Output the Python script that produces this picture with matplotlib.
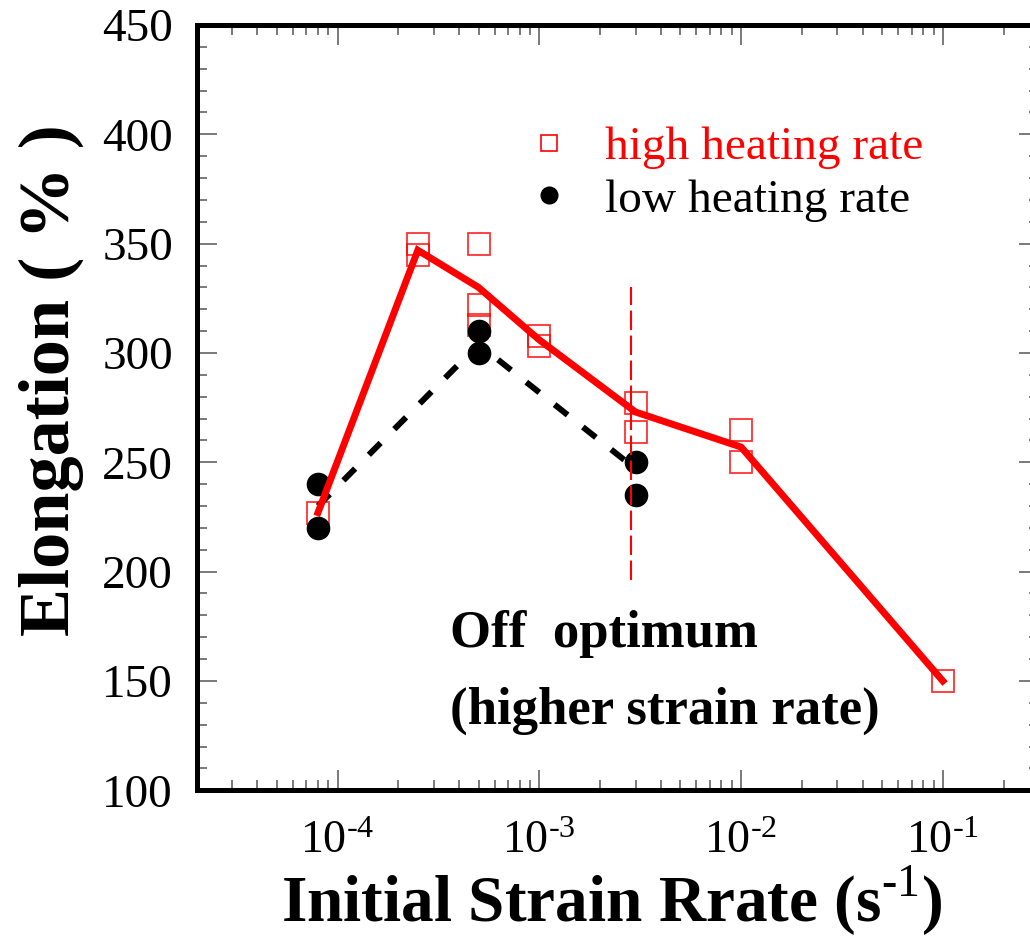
import matplotlib
matplotlib.use('Agg')
import matplotlib.pyplot as plt
import numpy as np
from matplotlib.ticker import MultipleLocator, LogLocator, NullFormatter, FuncFormatter
from matplotlib.lines import Line2D

plt.rcParams['font.family'] = ['Liberation Serif', 'DejaVu Serif']
plt.rcParams['mathtext.fontset'] = 'custom'
plt.rcParams['mathtext.rm'] = 'Liberation Serif'
plt.rcParams['mathtext.bf'] = 'Liberation Serif:bold'
plt.rcParams['axes.unicode_minus'] = False
plt.rcParams['lines.scale_dashes'] = False

# high heating rate (open squares)
high_x = [8e-5, 2.5e-4, 2.5e-4, 5e-4, 5e-4, 5e-4, 1e-3, 1e-3, 3e-3, 3e-3, 1e-2, 1e-2, 1e-1]
high_y = [227, 350, 345, 350, 322, 313, 308, 303, 277, 264, 265, 250, 150]
# low heating rate (filled circles)
low_x = [8e-5, 8e-5, 5e-4, 5e-4, 3e-3, 3e-3]
low_y = [240, 220, 310, 300, 250, 235]
# trend lines
high_fit_x = [8e-5, 2.5e-4, 5e-4, 1e-3, 3e-3, 1e-2, 1e-1]
high_fit_y = [227, 347, 330, 306, 273, 257, 150]
low_fit_x = [8e-5, 5e-4, 3e-3]
low_fit_y = [230, 304, 247]
# "off optimum" marker line
vline_x = 2.85e-3
vline_y = (196, 330)


def pow10(v, pos):
    e = int(round(np.log10(v)))
    return r'$\mathregular{10^{\text{%d}}}$' % e


fig = plt.figure(figsize=(10.3, 9.38), dpi=100)
ax = fig.add_axes([0.1908, 0.1575, 0.818, 0.8158])

ax.plot(high_x, high_y, ls='none', marker='s', ms=16, mfc='none', mec='red',
        mew=1.3, alpha=0.8, zorder=2)
ax.plot(low_x, low_y, ls='none', marker='o', ms=16, mfc='black', mec='black', zorder=3)
ax.plot(low_fit_x, low_fit_y, c='black', lw=4.3, dashes=(12, 14), zorder=4)
ax.plot(high_fit_x, high_fit_y, c='red', lw=5, solid_joinstyle='miter', zorder=5)
ax.vlines(vline_x, vline_y[0], vline_y[1], colors='red', lw=1.5,
          linestyles=(0, (14, 4)), zorder=6)

ax.set_xscale('log')
ax.set_xlim(2e-5, 3e-1)
ax.set_ylim(100, 450)
ax.xaxis.set_major_locator(LogLocator(base=10, numticks=20))
ax.xaxis.set_minor_locator(LogLocator(base=10, subs=np.arange(2, 10), numticks=20))
ax.xaxis.set_major_formatter(FuncFormatter(pow10))
ax.xaxis.set_minor_formatter(NullFormatter())
ax.yaxis.set_major_locator(MultipleLocator(50))
ax.yaxis.set_minor_locator(MultipleLocator(10))

for s in ax.spines.values():
    s.set_linewidth(3.6)
ax.tick_params(which='both', direction='in', top=True, right=True, color='#555555', width=1.1)
ax.tick_params(which='major', length=14.5)
ax.tick_params(which='minor', length=7.2)
ax.tick_params(axis='x', which='major', labelsize=33, pad=22)
ax.tick_params(axis='y', which='major', labelsize=34, pad=17)

ax.set_xlabel(r'Initial Strain Rrate (s$^{\mathregular{\text{-1}}}$)', fontsize=47, fontweight='bold')
ax.xaxis.set_label_coords(0.493, -0.096)
ax.set_ylabel('Elongation ( % )', fontsize=52, fontweight='bold')
ax.yaxis.set_label_coords(-0.133, 0.536)

ax.text(0.3005, 0.187, 'Off  optimum', transform=ax.transAxes, fontsize=38,
        fontweight='bold', va='baseline', ha='left')
ax.text(0.3005, 0.0876, '(higher strain rate)', transform=ax.transAxes, fontsize=38,
        fontweight='bold', va='baseline', ha='left')

handles = [Line2D([], [], ls='none', marker='s', ms=12, mfc='none', mec='red', mew=1.2),
           Line2D([], [], ls='none', marker='o', ms=12, mfc='black', mec='black')]
leg = ax.legend(handles, ['high heating rate', 'low heating rate'], loc='upper left',
                bbox_to_anchor=(0.3925, 0.868), frameon=False, fontsize=34,
                handlelength=0.92, handletextpad=0.72, labelspacing=0.2,
                borderpad=0, borderaxespad=0)
for t, c in zip(leg.get_texts(), ['red', 'black']):
    t.set_color(c)

fig.savefig('out.png', dpi=100)
